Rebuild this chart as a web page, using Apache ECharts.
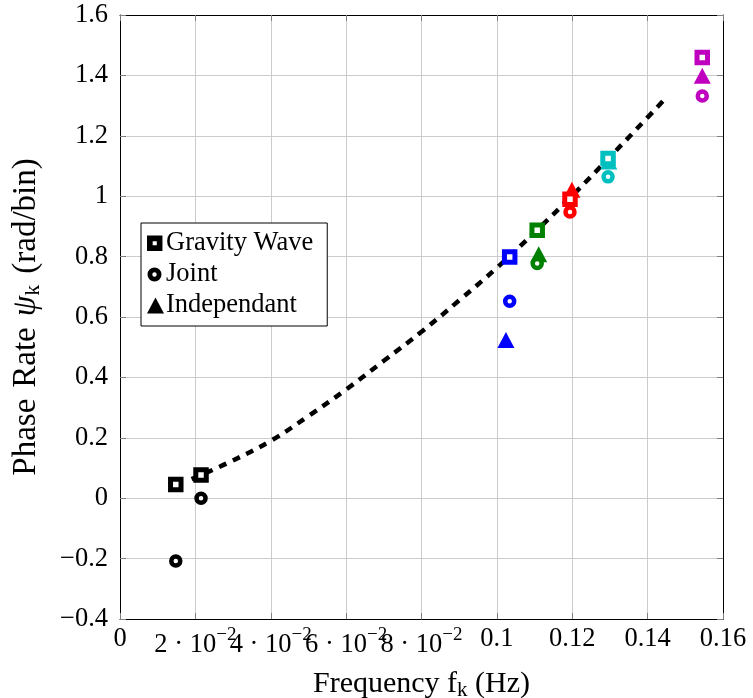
<!DOCTYPE html>
<html><head><meta charset="utf-8">
<script src="https://cdn.jsdelivr.net/npm/echarts@6/dist/echarts.min.js"></script>
<style>html,body{margin:0;padding:0;background:#fff}#c{width:753px;height:698px}</style>
</head><body><div id="c"></div>
<script>
// colour of each frequency group
const groupColors = ['#000000', '#000000', '#0000ff', '#008000', '#ff0000', '#00bfbf', '#bf00bf'];
// Gravity Wave (squares)
const gravityX = [0.0148, 0.0215, 0.1034, 0.1107, 0.1194, 0.1295, 0.1545];
const gravityY = [0.045, 0.077, 0.799, 0.887, 0.990, 1.125, 1.459];
// Joint (circles)
const jointX = [0.0148, 0.0215, 0.1034, 0.1107, 0.1194, 0.1295, 0.1545];
const jointY = [-0.208, 0.0, 0.652, 0.777, 0.948, 1.064, 1.332];
// Independant (triangles)
const indepX = [0.0148, 0.0215, 0.1024, 0.1111, 0.1199, 0.1297, 0.1545];
const indepY = [null, null, 0.524, 0.808, 1.021, 1.115, 1.399];
// dashed fit curve
const fitX = [0.019, 0.0283, 0.04, 0.05, 0.06, 0.07, 0.08, 0.09, 0.10, 0.11, 0.12, 0.13, 0.14, 0.1443];
const fitY = [0.063, 0.115, 0.19, 0.272, 0.36, 0.455, 0.551, 0.655, 0.763, 0.88, 1.002, 1.13, 1.261, 1.318];
// tick labels
const xTickLabels = ['0', '2 · 10^−2', '4 · 10^−2', '6 · 10^−2', '8 · 10^−2', '0.1', '0.12', '0.14', '0.16'];
const yTickLabels = ['−0.4', '−0.2', '0', '0.2', '0.4', '0.6', '0.8', '1', '1.2', '1.4', '1.6'];
const seriesNames = ['Gravity Wave', 'Joint', 'Independant'];

const FONT = 'Liberation Serif';
const FS = 26.5;
const TFS = 30;
const YFS = 33;

function pts(xs, ys) {
  const out = [];
  xs.forEach((x, i) => {
    if (ys[i] === null || ys[i] === undefined) return;
    out.push({ value: [x, ys[i]], groupColor: groupColors[i] });
  });
  return out;
}

const sqData = pts(gravityX, gravityY).map(d => ({ value: d.value, itemStyle: { borderColor: d.groupColor } }));
const ciData = pts(jointX, jointY).map(d => ({ value: d.value, itemStyle: { borderColor: d.groupColor } }));
const trData = pts(indepX, indepY).map(d => ({ value: d.value, itemStyle: { color: d.groupColor } }));
const fitData = fitX.map((x, i) => [x, fitY[i]]);

const iconSquare = 'path://M0.5,0.5h15v15h-15zM6,6v4h4v-4z M17,16';
const iconCircle = 'path://M0.5,8a7,7 0 1,0 14,0a7,7 0 1,0 -14,0zM5.3,8a2.2,2.2 0 1,1 4.4,0a2.2,2.2 0 1,1 -4.4,0z M0,0 M17,16';
const iconTri = 'path://M8.5,0L17,16L0,16z';

const chart = echarts.init(document.getElementById('c'), null, { renderer: 'canvas' });

const tickStyle = { show: true, inside: true, length: 6, lineStyle: { color: '#7f7f7f', width: 1 } };

chart.setOption({
  animation: false,
  backgroundColor: '#fff',
  textStyle: { fontFamily: FONT },
  grid: { left: 120, right: 30, top: 15, bottom: 79, containLabel: false, outerBoundsMode: 'none' },
  xAxis: [{
    type: 'value', min: 0, max: 0.16, interval: 0.02,
    axisLine: { show: true, onZero: false, lineStyle: { color: '#000', width: 1 } },
    axisTick: tickStyle,
    splitLine: { show: true, lineStyle: { color: '#cccccc', width: 1 } },
    axisLabel: {
      margin: 7, color: '#000', fontFamily: FONT, fontSize: FS,
      hideOverlap: false,
      formatter: function (v) {
        const s = xTickLabels[Math.round(v / 0.02)];
        if (s === undefined) return '';
        if (s.indexOf('^') >= 0) {
          const p = s.split('^');
          return '{b|' + p[0] + '}{s|' + p[1] + '}';
        }
        return '{b|' + s + '}';
      },
      rich: {
        b: { fontSize: FS, fontFamily: FONT, color: '#000' },
        s: { fontSize: 19, fontFamily: FONT, color: '#000', padding: [0, 0, 19, 0] }
      }
    },
    name: '{t|Frequency f}{sub|k}{t| (Hz)}',
    nameLocation: 'middle', nameGap: 48,
    nameTextStyle: {
      rich: {
        t: { fontSize: TFS, fontFamily: FONT, color: '#000' },
        sub: { fontSize: 21, fontFamily: FONT, color: '#000', padding: [13, 0, 0, 0] }
      }
    }
  }, {
    type: 'value', position: 'top', min: 0, max: 0.16, interval: 0.02,
    axisLine: { show: true, onZero: false, lineStyle: { color: '#000', width: 1 } },
    axisTick: tickStyle, axisLabel: { show: false }, splitLine: { show: false }
  }],
  yAxis: [{
    type: 'value', min: -0.4, max: 1.6, interval: 0.2,
    axisLine: { show: true, onZero: false, lineStyle: { color: '#000', width: 1 } },
    axisTick: tickStyle,
    splitLine: { show: true, lineStyle: { color: '#cccccc', width: 1 } },
    axisLabel: {
      margin: 12, color: '#000', fontFamily: FONT, fontSize: FS,
      formatter: function (v) {
        const s = yTickLabels[Math.round((v + 0.4) / 0.2)];
        return s === undefined ? '' : s;
      }
    },
    name: '{t|Phase \u200ARate \u200A}{i|ψ}{sub|k}{t| \u200A(rad/bin)}',
    nameLocation: 'middle', nameGap: 76, nameRotate: 90,
    nameTextStyle: {
      rich: {
        t: { fontSize: YFS, fontFamily: FONT, color: '#000' },
        i: { fontSize: YFS, fontFamily: FONT, fontStyle: 'italic', color: '#000' },
        sub: { fontSize: 22, fontFamily: FONT, color: '#000', padding: [14, 0, 0, 0] }
      }
    }
  }, {
    type: 'value', position: 'right', min: -0.4, max: 1.6, interval: 0.2,
    axisLine: { show: true, onZero: false, lineStyle: { color: '#000', width: 1 } },
    axisTick: tickStyle, axisLabel: { show: false }, splitLine: { show: false }
  }],
  legend: {
    orient: 'vertical', left: 141, top: 223,
    padding: [5, 14, 5, 6],
    itemWidth: 17, itemHeight: 16, itemGap: 0,
    borderColor: '#000', borderWidth: 1, borderRadius: 0,
    backgroundColor: '#fff',
    selectedMode: false,
    itemStyle: { color: '#000', borderWidth: 0, opacity: 1 },
    textStyle: { fontFamily: FONT, fontSize: FS, color: '#000', lineHeight: 31, padding: [0, 0, 0, -3] },
    data: [
      { name: seriesNames[0], icon: iconSquare },
      { name: seriesNames[1], icon: iconCircle },
      { name: seriesNames[2], icon: iconTri }
    ]
  },
  series: [
    {
      name: 'fit', type: 'line', data: fitData, smooth: 0.4, showSymbol: false, symbol: 'none',
      lineStyle: { color: '#000', width: 4.5, type: [8, 7], cap: 'butt' }, z: 1, silent: true
    },
    {
      name: seriesNames[2], type: 'scatter', data: trData, symbol: 'triangle', symbolSize: [17, 16],
      itemStyle: { color: '#000', borderWidth: 0, opacity: 1 }, z: 3
    },
    {
      name: seriesNames[0], type: 'scatter', data: sqData, symbol: 'rect', symbolSize: 10.5,
      itemStyle: { color: '#fff', borderColor: '#000', borderWidth: 5, opacity: 1 }, z: 4
    },
    {
      name: seriesNames[1], type: 'scatter', data: ciData, symbol: 'circle', symbolSize: 9,
      itemStyle: { color: '#fff', borderColor: '#000', borderWidth: 4.5, opacity: 1 }, z: 5
    }
  ]
});
</script>
</body></html>
